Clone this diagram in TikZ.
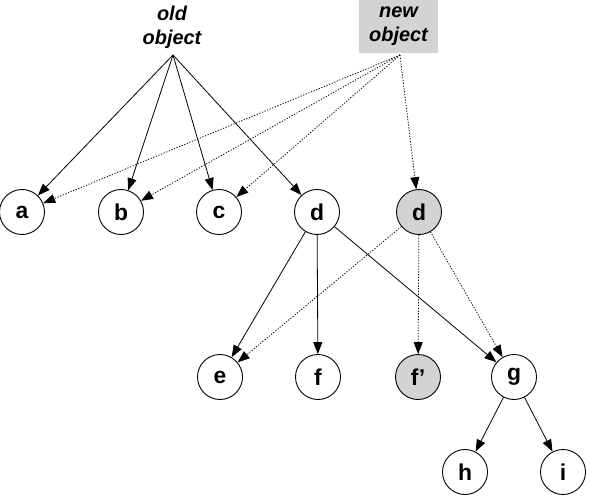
\documentclass[tikz,border=0pt]{standalone}
\usepackage{fontspec}
\setmainfont{Liberation Sans}
\usetikzlibrary{arrows.meta}
\definecolor{shade}{HTML}{D3D3D3}
\begin{document}
\begin{tikzpicture}[x=1bp,y=-1bp,
  obj/.style={circle,draw,line width=0.9bp,minimum size=45bp,inner sep=0pt,font=\fontsize{23}{25}\selectfont\bfseries},
  newobj/.style={obj,fill=shade},
  ptr/.style={line width=0.8bp,-{Triangle[length=12bp,width=9bp]}},
  newptr/.style={ptr,dash pattern=on 1.2bp off 1.6bp},
  lbl/.style={align=center,font=\fontsize{20}{24}\selectfont\bfseries\itshape}]
\useasboundingbox[fill=white] (0,0) rectangle (590,502);
\node[lbl] (old) at (172,27) {old\\object};
\node[lbl,fill=shade,minimum width=79bp,minimum height=53bp,inner sep=0pt] (new) at (398.5,26.5) {new\\object};
\coordinate (oo) at (173,55);
\coordinate (no) at (400,55);
\node[obj] (a) at (22,212) {a};
\node[obj] (b) at (121,212) {b};
\node[obj] (c) at (219,212) {c};
\node[obj] (d) at (317,212) {d};
\node[newobj] (d2) at (419,212) {d};
\node[obj] (e) at (220,377) {e};
\node[obj] (f) at (318,377) {f};
\node[newobj] (f2) at (418,377) {f’};
\node[obj] (g) at (514,377) {g};
\node[obj] (h) at (465,472) {h};
\node[obj] (i) at (563,472) {i};
\foreach \t in {a,b,c,d} \draw[ptr] (oo) -- (\t);
\foreach \t in {a,b,c,d2} \draw[newptr] (no) -- (\t);
\draw[ptr] (d) -- (e);
\draw[ptr] (d) -- (f);
\draw[ptr] (d) -- (g);
\draw[newptr] (d2) -- (e);
\draw[newptr] (d2) -- (f2);
\draw[newptr] (d2) -- (g);
\draw[ptr] (g) -- (h);
\draw[ptr] (g) -- (i);
\end{tikzpicture}
\end{document}
